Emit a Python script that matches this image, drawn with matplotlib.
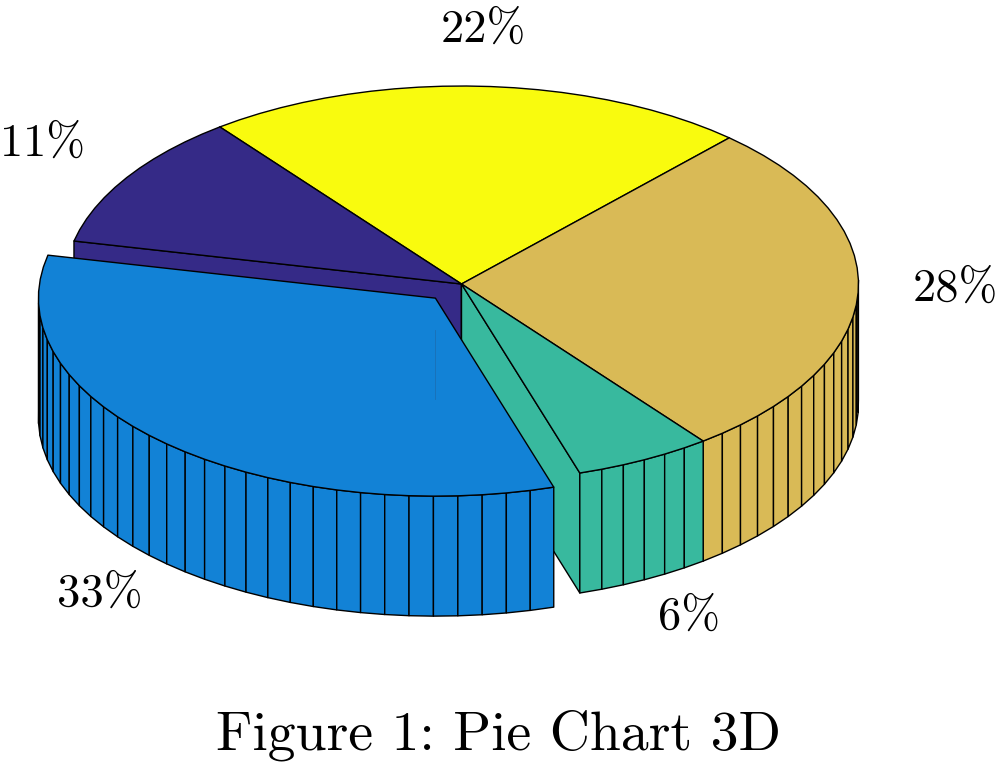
import numpy as np
import matplotlib
matplotlib.use("Agg")
import matplotlib.pyplot as plt
from matplotlib.patches import Polygon

plt.rcParams['font.family'] = ['cmr10', 'DejaVu Serif']
plt.rcParams['axes.unicode_minus'] = False

# drawn back to front, shares in percent
names = ["yellow", "dark", "tan", "green", "blue"]
shares = [22.2, 11.1, 27.8, 5.6, 33.3]
labels = ["22%", "11%", "28%", "6%", "33%"]
colors = ["#F9FB0E", "#352A87", "#D9BA56", "#38B99E", "#1282D6"]
exploded = [0, 0, 0, 0, 1]
# counter clockwise order of the slices round the pie
order = ["dark", "blue", "green", "tan", "yellow"]

label_pos = {"dark": (43, 144), "yellow": (483, 30), "tan": (955, 289),
             "green": (689, 617), "blue": (99.5, 594)}

# projection of the pie onto the image, in pixels
cx, cy = 461.5, 284
rx, ry = 397, 198
depth = 120
start = 127.5
explode = 0.097


def project(r, angle, off=(0, 0), down=0):
    a = np.radians(angle)
    return cx + off[0] + rx * r * np.cos(a), cy + off[1] - ry * r * np.sin(a) + down


def face(ax, pts, color):
    ax.add_patch(Polygon(pts, closed=True, facecolor=color, edgecolor="black",
                         linewidth=1.0, joinstyle="round"))


total = sum(shares)
angles = {}
a = start
for name in order:
    s = shares[names.index(name)]
    angles[name] = (a, a + s / total * 360)
    a = angles[name][1]

fig = plt.figure(figsize=(10, 7.64), dpi=100)
ax = fig.add_axes([0, 0, 1, 1])
ax.set_xlim(0, 1000)
ax.set_ylim(764, 0)
ax.axis("off")

for i, name in enumerate(names):
    a0, a1 = angles[name]
    mid = np.radians((a0 + a1) / 2)
    off = (0, 0)
    if exploded[i]:
        off = (rx * explode * np.cos(mid), -ry * explode * np.sin(mid))
    n = int(np.ceil(shares[i]))  # one outer facet per percent
    th = np.linspace(a0, a1, n + 1)
    c = colors[i]

    # flat walls of the cut, only if they face the viewer
    for edge, turn in ((a0, -90), (a1, 90)):
        if np.sin(np.radians(edge + turn)) < 0:
            face(ax, [project(0, edge, off), project(1, edge, off),
                      project(1, edge, off, depth), project(0, edge, off, depth)], c)

    # outer rim, only the part turned to the viewer
    for t0, t1 in zip(th[:-1], th[1:]):
        if min(np.sin(np.radians(t0)), np.sin(np.radians(t1))) < 0:
            face(ax, [project(1, t0, off), project(1, t1, off),
                      project(1, t1, off, depth), project(1, t0, off, depth)], c)

    top = [project(0, a0, off)] + [project(1, t, off) for t in th]
    face(ax, top, c)

    # faint seam on the blue top, as in the render
    if exploded[i]:
        x0, y0 = project(0, a0, off)
        ax.plot([x0, x0], [y0 + 32, y0 + 101], color="#1A6FB5", lw=0.6)

    x, y = label_pos[name]
    ax.text(x, y, labels[i], fontsize=33.5, ha="center", va="center", color="black")

ax.text(499, 735, "Figure 1: Pie Chart 3D", fontsize=40.1, ha="center", va="center", color="black")

fig.savefig("out.png", dpi=100)
